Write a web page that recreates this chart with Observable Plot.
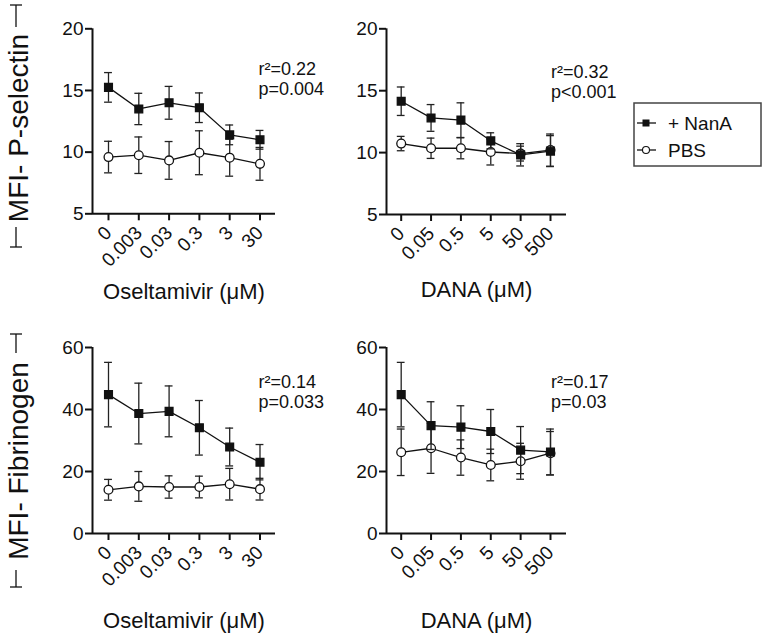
<!DOCTYPE html>
<html><head><meta charset="utf-8">
<script src="https://cdn.jsdelivr.net/npm/d3@7"></script>
<script src="https://cdn.jsdelivr.net/npm/@observablehq/plot@0.6"></script>
<style>
body{margin:0;background:#fff;font-family:"Liberation Sans",Arial,sans-serif;}
#wrap{position:relative;width:766px;height:637px;overflow:hidden;background:#fff;}
.pnl{position:absolute;}
#overlay{position:absolute;left:0;top:0;}
</style></head>
<body><div id="wrap"></div>
<script>
// ---- categories / tick labels ----
const oseltamivirDoses = ["0","0.003","0.03","0.3","3","30"];
const danaDoses = ["0","0.05","0.5","5","50","500"];
const pselTicks = [5,10,15,20];
const fibTicks = [0,20,40,60];
const seriesNames = ["+ NanA","PBS"];
const rowTitles = ["MFI- P-selectin","MFI- Fibrinogen"];
const xTitles = ["Oseltamivir (\u03bcM)","DANA (\u03bcM)"];
const stats = ["r\u00b2=0.22\np=0.004","r\u00b2=0.32\np<0.001","r\u00b2=0.14\np=0.033","r\u00b2=0.17\np=0.03"];

// ---- values (mean, error) ----
const pselOselNanA    = [15.25,13.5,14.0,13.6,11.4,11.0];
const pselOselNanAErr = [1.2,1.27,1.33,1.2,0.8,0.76];
const pselOselPBS     = [9.6,9.75,9.33,9.95,9.55,9.05];
const pselOselPBSErr  = [1.28,1.48,1.53,1.78,1.5,1.33];
const pselDanaNanA    = [14.15,12.8,12.62,10.95,9.82,10.12];
const pselDanaNanAErr = [1.15,1.08,1.4,0.65,0.9,1.25];
const pselDanaPBS     = [10.73,10.35,10.35,10.05,9.92,10.2];
const pselDanaPBSErr  = [0.58,0.82,0.85,1.05,0.6,1.3];
const fibOselNanA     = [44.8,38.7,39.4,34.1,27.9,23.0];
const fibOselNanAErr  = [10.4,9.8,8.2,8.8,6.1,5.7];
const fibOselPBS      = [14.1,15.2,15.0,15.0,15.9,14.3];
const fibOselPBSErr   = [3.35,4.8,3.6,3.5,5.1,3.5];
const fibDanaNanA     = [44.8,34.8,34.3,32.9,26.9,26.3];
const fibDanaNanAErr  = [10.4,7.7,6.9,7.1,7.6,7.4];
const fibDanaPBS      = [26.2,27.5,24.5,22.1,23.3,25.9];
const fibDanaPBSErr   = [7.5,8.1,5.7,5.1,5.8,7.0];

const FONT = "Liberation Sans, Arial, sans-serif";
const INK = "#111";

const panels = [
  {left:0,   top:0,   w:340, h:310, mt:28.3, mb:96.7, ml:92, mr:65, xd:[-0.528,5.512], yd:[5,20], yt:pselTicks,
   doses:oseltamivirDoses, nana:pselOselNanA, nanaE:pselOselNanAErr, pbs:pselOselPBS, pbsE:pselOselPBSErr,
   title:xTitles[0], stat:stats[0], statDx:-17, statDy:32, titleDy:70},
  {left:300, top:0,   w:330, h:310, mt:28.3, mb:96.0, ml:86, mr:64, xd:[-0.492,5.536], yd:[5,20], yt:pselTicks,
   doses:danaDoses, nana:pselDanaNanA, nanaE:pselDanaNanAErr, pbs:pselDanaPBS, pbsE:pselDanaPBSErr,
   title:xTitles[1], stat:stats[1], statDx:-15.5, statDy:35, titleDy:67},
  {left:0,   top:310, w:340, h:327, mt:37, mb:104, ml:92, mr:65, xd:[-0.528,5.512], yd:[0,60], yt:fibTicks,
   doses:oseltamivirDoses, nana:fibOselNanA, nanaE:fibOselNanAErr, pbs:fibOselPBS, pbsE:fibOselPBSErr,
   title:xTitles[0], stat:stats[2], statDx:-17, statDy:26, titleDy:79},
  {left:300, top:310, w:330, h:327, mt:37, mb:104, ml:86, mr:64, xd:[-0.492,5.536], yd:[0,60], yt:fibTicks,
   doses:danaDoses, nana:fibDanaNanA, nanaE:fibDanaNanAErr, pbs:fibDanaPBS, pbsE:fibDanaPBSErr,
   title:xTitles[1], stat:stats[3], statDx:-15.5, statDy:26, titleDy:79}
];

const wrap = document.getElementById("wrap");

function seriesMarks(rows, symbol, fill, cap) {
  const lo = d => d.v - d.e, hi = d => d.v + d.e;
  return [
    Plot.ruleX(rows, {x:"i", y1:lo, y2:hi, stroke:"#222", strokeWidth:1.3}),
    Plot.ruleY(rows, {y:hi, x1:d=>d.i-cap, x2:d=>d.i+cap, stroke:"#222", strokeWidth:1.3}),
    Plot.ruleY(rows, {y:lo, x1:d=>d.i-cap, x2:d=>d.i+cap, stroke:"#222", strokeWidth:1.3}),
    Plot.line(rows, {x:"i", y:"v", stroke:INK, strokeWidth:1.3}),
    Plot.dot(rows, {x:"i", y:"v", symbol, r:4.4, fill, stroke:INK, strokeWidth:1.3})
  ];
}

panels.forEach(p => {
  const nanaRows = p.doses.map((d,i)=>({i, v:p.nana[i], e:p.nanaE[i]}));
  const pbsRows  = p.doses.map((d,i)=>({i, v:p.pbs[i],  e:p.pbsE[i]}));
  const chart = Plot.plot({
    width:p.w, height:p.h,
    marginTop:p.mt, marginBottom:p.mb, marginLeft:p.ml, marginRight:p.mr,
    x:{domain:p.xd},
    y:{domain:p.yd},
    style:{fontFamily:FONT, fontSize:"19px", color:INK, background:"transparent", overflow:"visible"},
    marks:[
      Plot.axisY({ticks:p.yt, tickSize:7, tickPadding:2, fontSize:19, strokeWidth:2, label:null}),
      Plot.axisX({ticks:[0,1,2,3,4,5], tickFormat:i=>p.doses[i], tickRotate:-45, tickSize:7, tickPadding:9, fontSize:19, strokeWidth:2, label:null}),
      Plot.ruleY([p.yd[0]], {stroke:INK, strokeWidth:2}),
      Plot.ruleX([p.xd[0]], {stroke:INK, strokeWidth:2}),
      ...seriesMarks(pbsRows, "circle", "white", 0.13),
      ...seriesMarks(nanaRows, "square", INK, 0.13),
      Plot.text([p.stat], {text:d=>d, frameAnchor:"top-right", textAnchor:"start", lineAnchor:"top", dx:p.statDx, dy:p.statDy, fontSize:18, lineHeight:1.12, fill:INK}),
      Plot.text([p.title], {text:d=>d, frameAnchor:"bottom", lineAnchor:"top", dy:p.titleDy, fontSize:22, fill:INK})
    ]
  });
  chart.classList.add("pnl");
  chart.style.left = p.left + "px";
  chart.style.top = p.top + "px";
  wrap.appendChild(chart);
});

// ---- overlay: row titles with brackets, legend ----
const svg = d3.select(wrap).append("svg").attr("id","overlay").attr("width",766).attr("height",637)
  .style("font-family", FONT);
const rowsT = [
  {cx:128, bx:16, top:[5,27], bot:[227,247]},
  {cx:461, bx:16, top:[334,353], bot:[570,587]}
];
rowsT.forEach((r,k) => {
  svg.append("text").attr("transform",`translate(28,${r.cx}) rotate(-90)`)
    .attr("text-anchor","middle").attr("font-size",28).attr("fill",INK).text(rowTitles[k]);
  const g = svg.append("g").attr("stroke",INK).attr("stroke-width",1.3);
  g.append("line").attr("x1",r.bx).attr("x2",r.bx).attr("y1",r.top[0]).attr("y2",r.top[1]);
  g.append("line").attr("x1",r.bx-6).attr("x2",r.bx+6).attr("y1",r.top[0]).attr("y2",r.top[0]);
  g.append("line").attr("x1",r.bx).attr("x2",r.bx).attr("y1",r.bot[0]).attr("y2",r.bot[1]);
  g.append("line").attr("x1",r.bx-6).attr("x2",r.bx+6).attr("y1",r.bot[1]).attr("y2",r.bot[1]);
});
// legend
svg.append("rect").attr("x",634).attr("y",103).attr("width",127).attr("height",63)
  .attr("fill","white").attr("stroke","#444").attr("stroke-width",1.5);
const legY = [123,150];
seriesNames.forEach((n,k) => {
  const y = legY[k];
  svg.append("line").attr("x1",637).attr("x2",656).attr("y1",y).attr("y2",y).attr("stroke",INK).attr("stroke-width",1.3);
  if (k===0) svg.append("rect").attr("x",642.5).attr("y",y-3.5).attr("width",7).attr("height",7).attr("fill",INK);
  else svg.append("circle").attr("cx",646).attr("cy",y).attr("r",3.5).attr("fill","white").attr("stroke",INK).attr("stroke-width",1.1);
  svg.append("text").attr("x",668).attr("y",y+6.5).attr("font-size",19).attr("fill",INK).text(n);
});
</script>
</body></html>
